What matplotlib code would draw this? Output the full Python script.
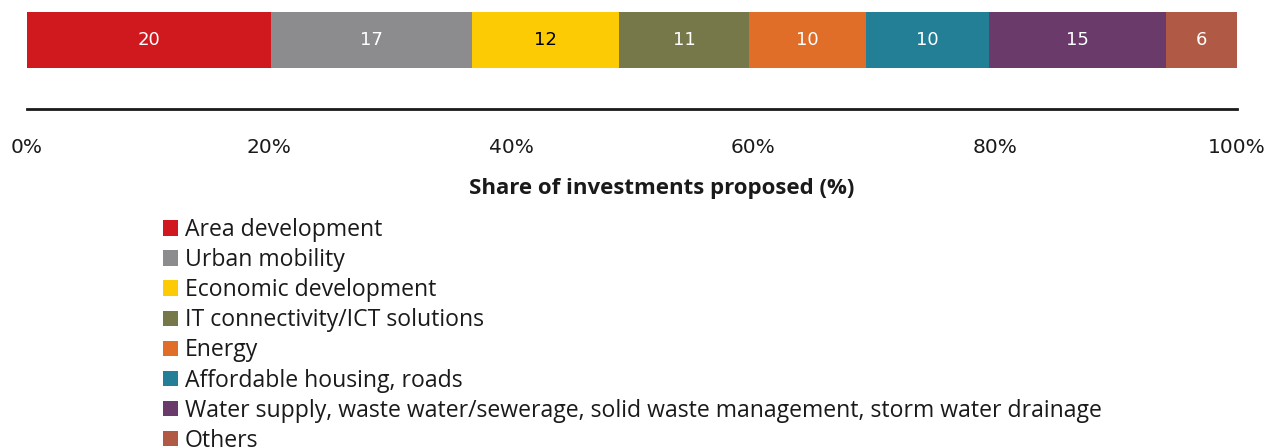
import matplotlib
matplotlib.use("Agg")
import matplotlib.pyplot as plt
from matplotlib.patches import Patch

plt.rcParams['font.family'] = ['Open Sans', 'DejaVu Sans']

categories = ["Area development", "Urban mobility", "Economic development",
              "IT connectivity/ICT solutions", "Energy", "Affordable housing, roads",
              "Water supply, waste water/sewerage, solid waste management, storm water drainage",
              "Others"]
shares = [20.2, 16.6, 12.1, 10.8, 9.6, 10.2, 14.6, 5.9]
labels = ["20", "17", "12", "11", "10", "10", "15", "6"]
colors = ["#D0191F", "#8C8C8E", "#FDCB04", "#76784A", "#E06E28", "#227F96", "#693A6A", "#B05A45"]
label_colors = ["white", "white", "black", "white", "white", "white", "white", "white"]
ticks = [0, 20, 40, 60, 80, 100]
tick_labels = ["0%", "20%", "40%", "60%", "80%", "100%"]

W, H = 1269, 448
fig = plt.figure(figsize=(W / 100, H / 100), dpi=100)
ax = fig.add_axes([27 / W, 1 - 109 / H, (1237 - 27) / W, 97 / H])

left = 0
for s, lab, c, lc in zip(shares, labels, colors, label_colors):
    ax.barh(69, s, left=left, height=56, color=c, edgecolor='none')
    ax.text(left + s / 2, 69, lab, ha='center', va='center', color=lc, fontsize=13,
            family='DejaVu Sans')
    left += s

ax.set_xlim(0, 100)
ax.set_ylim(0, 97)
for sp in ['top', 'left', 'right']:
    ax.spines[sp].set_visible(False)
ax.spines['bottom'].set_linewidth(2)
ax.spines['bottom'].set_color('#1a1a1a')
ax.set_yticks([])
ax.set_xticks(ticks)
ax.set_xticklabels(tick_labels, fontsize=14.5, color='#1a1a1a', family='DejaVu Sans')
ax.tick_params(axis='x', length=0, pad=21)

fig.text(662 / W, 1 - 188 / H, "Share of investments proposed (%)", ha='center', va='center',
         fontsize=16, fontweight='bold', color='#1a1a1a')

handles = [Patch(facecolor=c, edgecolor='none') for c in colors]
fig.legend(handles, categories, loc='upper left', bbox_to_anchor=(163 / W, 1 - 218 / H),
           frameon=False, fontsize=16.6, handlelength=0.65, handleheight=0.65,
           handletextpad=0.3, labelspacing=0.265, borderpad=0, borderaxespad=0,
           labelcolor='#1a1a1a')

fig.savefig("out.png", dpi=100)
